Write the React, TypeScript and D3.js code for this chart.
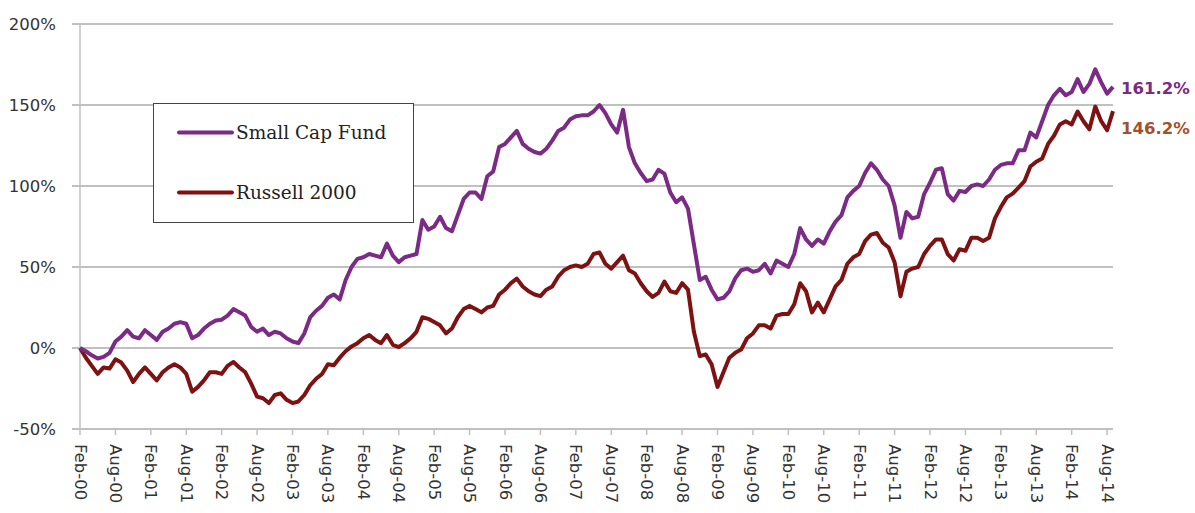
import React from "react";
import * as d3 from "d3";

const tickLabels = [
  "Feb-00","Aug-00","Feb-01","Aug-01","Feb-02","Aug-02","Feb-03","Aug-03","Feb-04","Aug-04",
  "Feb-05","Aug-05","Feb-06","Aug-06","Feb-07","Aug-07","Feb-08","Aug-08","Feb-09","Aug-09",
  "Feb-10","Aug-10","Feb-11","Aug-11","Feb-12","Aug-12","Feb-13","Aug-13","Feb-14","Aug-14",
];

const yTicks = [-50, 0, 50, 100, 150, 200];

const smallCapFund = [
  0, -2, -4.5, -6.5, -5.5, -3, 4, 7, 11, 7, 6, 11, 8, 5, 10, 12, 15, 16, 15, 6,
  8, 12, 15, 17, 17.5, 20, 24, 22, 20, 13, 10, 12, 8, 10, 9, 6, 4, 3, 9, 19,
  23, 26, 31, 33, 30, 42, 50, 55, 56, 58, 57, 56, 64.5, 57, 53, 56, 57, 58, 79, 73,
  75, 81, 74, 72, 82, 92, 96, 96, 92, 106, 109, 124, 126, 130, 134, 126, 123, 121, 120, 123,
  128, 134, 136, 141, 143, 143.6, 143.6, 146, 150, 145, 138, 133, 147, 124, 114, 108, 103, 104, 110, 107.6,
  96, 90, 93, 86, 64, 42, 44, 36, 30, 31, 35, 43, 48, 49, 47, 48, 52, 46, 54, 52,
  50, 58, 74, 67, 63, 67, 64.4, 72, 78, 82, 93, 97, 100, 108, 114, 110, 104, 100, 88, 68,
  84, 80, 81, 95, 102, 110, 111, 95, 91, 97, 96.3, 100, 101, 100, 104, 110, 113, 114, 114, 122,
  122, 133, 130, 140, 150, 156, 160, 156, 158, 166, 158, 163, 172, 164, 157, 161.2,
];

const russell2000 = [
  0, -6, -11, -16, -12, -12.7, -7, -9, -14, -21, -16, -12, -16, -20, -15, -12, -10, -12, -16, -27,
  -24, -20, -15, -15, -16, -11, -8.6, -12, -15, -22, -30, -31, -34, -29, -28, -32, -34, -33, -29, -23,
  -19, -16, -10, -10.7, -6, -2, 1, 3, 6, 8, 5, 3, 8, 2, 0.6, 3, 6, 10, 19, 18,
  16, 14, 9, 12, 19, 24, 26, 24, 22, 25, 26, 33, 36, 40, 42.8, 38, 35, 33, 32, 36,
  38, 44, 48, 50, 51, 50, 52, 58, 59, 52, 49, 53, 57, 48, 46, 40, 35, 31.5, 34, 41,
  35, 34, 40, 36, 10, -5, -4, -10, -24, -15, -6, -3, -1, 6, 9, 14, 14, 12, 20, 21,
  21, 27, 40, 35, 22, 28, 22, 30, 38, 42, 52, 56, 58, 66, 70, 71, 65, 62, 53, 32,
  47, 49, 50, 58, 63, 67, 67, 58, 54, 61, 60, 68, 68, 66, 68, 80, 87, 93, 95.3, 99,
  103, 112, 115, 117, 126, 131, 138, 140, 138, 146, 140, 135, 149, 140, 134.4, 146.2,
];

const seriesNames = ["Small Cap Fund", "Russell 2000"];
const endLabels = ["161.2%", "146.2%"];

const W = 1195;
const H = 513;
const PURPLE = "#7b2a85";
const RED = "#7e1111";
const BROWN = "#a0522d";
const GRID = "#c0c0c0";

export default function App() {
  const x = d3.scaleLinear().domain([0, smallCapFund.length - 1]).range([80, 1113]);
  const y = d3.scaleLinear().domain([-50, 200]).range([429, 24]);
  const line = d3
    .line<number>()
    .x((_, i) => x(i))
    .y((d) => y(d))
    .curve(d3.curveLinear);

  const tickIdx = tickLabels.map((_, i) => i * 6);

  return (
    <svg
      width={W}
      height={H}
      style={{ position: "absolute", left: 0, top: 0, background: "#fff" }}
      fontFamily="'DejaVu Sans', sans-serif"
    >
      <rect x={0} y={0} width={W} height={H} fill="#fff" />
      {yTicks.map((t) => (
        <line key={t} x1={72} x2={1113} y1={y(t)} y2={y(t)} stroke={GRID} strokeWidth={2} />
      ))}
      <line x1={80} x2={80} y1={y(200)} y2={y(-50)} stroke={GRID} strokeWidth={1.5} />
      {tickIdx.map((t) => (
        <line key={t} x1={x(t)} x2={x(t)} y1={y(-50)} y2={y(-50) + 6} stroke={GRID} strokeWidth={1.5} />
      ))}
      {yTicks.map((t) => (
        <text
          key={t}
          x={56}
          y={y(t)}
          textAnchor="end"
          dominantBaseline="central"
          fontSize={16.5}
          fill="#333"
        >
          {`${t}%`}
        </text>
      ))}
      {tickIdx.map((t, i) => (
        <text
          key={t}
          transform={`translate(${x(t)},${y(-50) + 15}) rotate(90)`}
          textAnchor="start"
          dominantBaseline="central"
          fontSize={16.5}
          fill="#333"
        >
          {tickLabels[i]}
        </text>
      ))}
      <path d={line(russell2000) || ""} fill="none" stroke={RED} strokeWidth={4} strokeLinejoin="round" />
      <path d={line(smallCapFund) || ""} fill="none" stroke={PURPLE} strokeWidth={4} strokeLinejoin="round" />
      <text
        x={1121}
        y={y(smallCapFund[smallCapFund.length - 1]) + 1.5}
        dominantBaseline="central"
        fontSize={16.5}
        fontWeight="bold"
        fill={PURPLE}
      >
        {endLabels[0]}
      </text>
      <text
        x={1121}
        y={y(russell2000[russell2000.length - 1]) + 17}
        dominantBaseline="central"
        fontSize={16.5}
        fontWeight="bold"
        fill={BROWN}
      >
        {endLabels[1]}
      </text>
      <rect x={153.5} y={103.5} width={260} height={119} fill="#fff" stroke="#444" strokeWidth={1} />
      {[PURPLE, RED].map((c, i) => (
        <g key={i}>
          <line x1={179} x2={232} y1={132.5 + i * 60} y2={132.5 + i * 60} stroke={c} strokeWidth={4} strokeLinecap="round" />
          <text
            x={236}
            y={132.5 + i * 60}
            dominantBaseline="central"
            fontFamily="'DejaVu Serif', serif"
            fontSize={18.5}
            fill="#222"
          >
            {seriesNames[i]}
          </text>
        </g>
      ))}
    </svg>
  );
}
